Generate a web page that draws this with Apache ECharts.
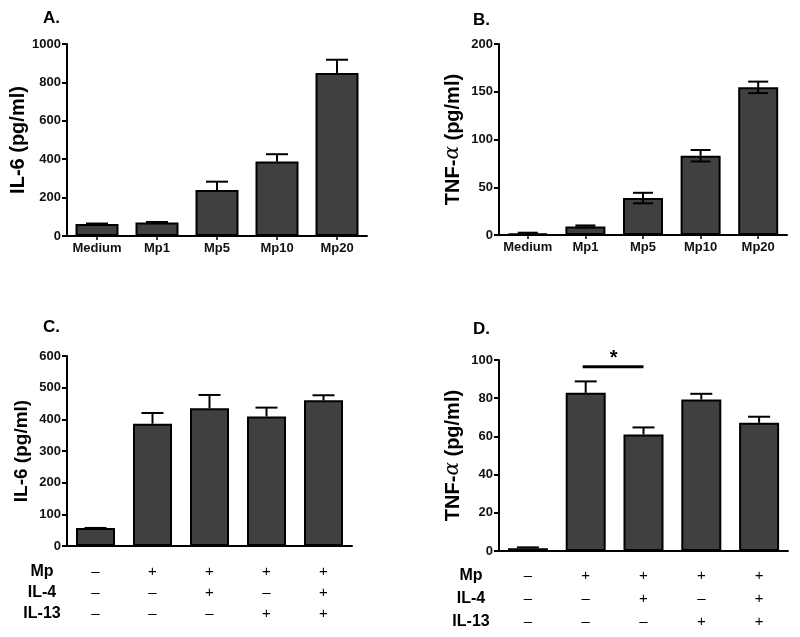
<!DOCTYPE html>
<html>
<head>
<meta charset="utf-8">
<script src="https://cdn.jsdelivr.net/npm/echarts@6/dist/echarts.min.js"></script>
<style>
html,body{margin:0;padding:0;background:#fff;}
#chart{width:800px;height:637px;}
</style>
</head>
<body>
<div id="chart"></div>
<script>
// ---- Data ----
const doseCats = ['Medium', 'Mp1', 'Mp5', 'Mp10', 'Mp20'];
const il6Dose = [62, 70, 240, 388, 849];
const il6DoseSem = [3, 3, 43, 38, 69];
const tnfDose = [1.4, 9, 38.7, 83, 154.6];
const tnfDoseSem = [1, 1, 5.5, 6, 6];

// treatment table (1 = +, 0 = -)
const rowNames = ['Mp', 'IL-4', 'IL-13'];
const mpRow = [0, 1, 1, 1, 1];
const il4Row = [0, 0, 1, 0, 1];
const il13Row = [0, 0, 0, 1, 1];

const il6Treat = [57, 386, 435, 409, 460];
const il6TreatSem = [0, 34, 42, 28, 16];
const tnfTreat = [1.4, 82.8, 61, 79.3, 67.1];
const tnfTreatSem = [0.5, 6, 3.7, 3, 3.2];

// significance bar in panel D: from category, to category, value
const sigFrom = 1, sigTo = 2, sigValue = 96.5, sigLabel = '*';

// ---- Helpers ----
const FONT = 'Liberation Sans, Arial, Helvetica, sans-serif';
const sym = v => (v ? '+' : '–');
const treatCats = mpRow.map((_, i) => sym(mpRow[i]) + '\n' + sym(il4Row[i]) + '\n' + sym(il13Row[i]));

function errRender(capW, showLower) {
  return function (params, api) {
    const x = api.value(0), m = api.value(1), s = api.value(2);
    const top = api.coord([x, m + s]);
    const mid = api.coord([x, m]);
    const bot = api.coord([x, m - s]);
    const st = { stroke: '#000', lineWidth: 2 };
    const ch = [
      { type: 'line', shape: { x1: top[0], y1: top[1], x2: mid[0], y2: mid[1] }, style: st },
      { type: 'line', shape: { x1: top[0] - capW / 2, y1: top[1], x2: top[0] + capW / 2, y2: top[1] }, style: st }
    ];
    if (showLower) {
      ch.push({ type: 'line', shape: { x1: mid[0], y1: mid[1], x2: bot[0], y2: bot[1] }, style: st });
      ch.push({ type: 'line', shape: { x1: bot[0] - capW / 2, y1: bot[1], x2: bot[0] + capW / 2, y2: bot[1] }, style: st });
    }
    return { type: 'group', children: ch };
  };
}

const grids = [
  { left: 67, top: 44, width: 300, height: 192 },
  { left: 499, top: 44, width: 288, height: 191 },
  { left: 67, top: 356, width: 285, height: 190 },
  { left: 499, top: 360, width: 289, height: 191 }
];

const axisLineStyle = { color: '#000', width: 2 };

function xAx(gi, cats, isTable, lh, margin) {
  return {
    type: 'category', gridIndex: gi, data: cats,
    axisLine: { lineStyle: axisLineStyle },
    axisTick: isTable ? { show: false } : { show: true, alignWithLabel: true, length: 4, lineStyle: { color: '#000', width: 1.5 } },
    axisLabel: isTable ? {
      color: '#000', fontFamily: FONT, fontSize: 15, fontWeight: 'normal', lineHeight: lh, margin: margin, interval: 0
    } : {
      color: '#111', fontFamily: FONT, fontSize: 13, fontWeight: 'bold', margin: 6, interval: 0
    },
    splitLine: { show: false }
  };
}

function yAx(gi, max, interval, name, fs, nameFs) {
  return {
    type: 'value', gridIndex: gi, min: 0, max: max, interval: interval,
    name: name, nameLocation: 'middle', nameGap: 36,
    nameTextStyle: {
      color: '#000', fontFamily: FONT, fontWeight: 'bold', fontSize: nameFs,
      rich: {
        b: { fontFamily: FONT, fontWeight: 'bold', fontSize: nameFs, color: '#000' },
        a: { fontFamily: 'DejaVu Serif, serif', fontStyle: 'italic', fontWeight: 'normal', fontSize: nameFs, color: '#000' }
      }
    },
    axisLine: { show: true, lineStyle: axisLineStyle },
    axisTick: { show: true, length: 5, lineStyle: { color: '#000', width: 2 } },
    axisLabel: { color: '#111', fontFamily: FONT, fontSize: fs, fontWeight: 'bold', margin: 6, formatter: v => String(v) },
    splitLine: { show: false }
  };
}

function barSeries(idx, data, w) {
  return {
    type: 'bar', xAxisIndex: idx, yAxisIndex: idx, data: data, barWidth: w,
    itemStyle: { color: '#404040', borderColor: '#000', borderWidth: 2 },
    silent: true, z: 2
  };
}
function errSeries(idx, means, sems, capW, lower) {
  return {
    type: 'custom', xAxisIndex: idx, yAxisIndex: idx,
    data: means.map((m, i) => [i, m, sems[i]]),
    renderItem: errRender(capW, lower), z: 3, silent: true, clip: false
  };
}

const sigSeries = {
  type: 'custom', xAxisIndex: 3, yAxisIndex: 3, z: 4, silent: true, clip: false,
  data: [[sigFrom, sigTo, sigValue]],
  renderItem: function (params, api) {
    const p1 = api.coord([api.value(0), api.value(2)]);
    const p2 = api.coord([api.value(1), api.value(2)]);
    return {
      type: 'group', children: [
        { type: 'line', shape: { x1: p1[0] - 3, y1: p1[1], x2: p2[0], y2: p2[1] }, style: { stroke: '#000', lineWidth: 3 } },
        { type: 'text', x: (p1[0] + p2[0]) / 2 - 1, y: p1[1] - 8, style: { text: sigLabel, font: 'bold 20px ' + FONT, fill: '#000', textAlign: 'center', textVerticalAlign: 'middle' } }
      ]
    };
  }
};

function txt(x, y, text, fs, align) {
  return { type: 'text', x: x, y: y, style: { text: text, font: 'bold ' + fs + 'px ' + FONT, fill: '#000', textAlign: align || 'left', textVerticalAlign: 'middle' } };
}

const graphics = [
  txt(43, 18, 'A.', 17), txt(473, 20, 'B.', 17), txt(43, 327, 'C.', 17), txt(473, 329, 'D.', 17)
];
const cRowY = [572, 593, 614], dRowY = [576, 599, 622];
rowNames.forEach((n, i) => {
  graphics.push(txt(42, cRowY[i], n, 16, 'center'));
  graphics.push(txt(471, dRowY[i], n, 16, 'center'));
});

const tnfName = '{b|TNF-}{a|α}{b| (pg/ml)}';

const option = {
  animation: false,
  backgroundColor: '#fff',
  grid: grids,
  xAxis: [
    xAx(0, doseCats, false),
    xAx(1, doseCats, false),
    xAx(2, treatCats, true, 21, 15.5),
    xAx(3, treatCats, true, 23, 13.5)
  ],
  yAxis: [
    yAx(0, 1000, 200, 'IL-6 (pg/ml)', 13, 20),
    yAx(1, 200, 50, tnfName, 13, 20),
    yAx(2, 600, 100, 'IL-6 (pg/ml)', 13, 19),
    yAx(3, 100, 20, tnfName, 13, 20)
  ],
  graphic: graphics,
  series: [
    barSeries(0, il6Dose, 43), errSeries(0, il6Dose, il6DoseSem, 22, false),
    barSeries(1, tnfDose, 40), errSeries(1, tnfDose, tnfDoseSem, 20, true),
    barSeries(2, il6Treat, 39), errSeries(2, il6Treat, il6TreatSem, 22, false),
    barSeries(3, tnfTreat, 40), errSeries(3, tnfTreat, tnfTreatSem, 22, false),
    sigSeries
  ]
};

const chart = echarts.init(document.getElementById('chart'), null, { renderer: 'canvas' });
chart.setOption(option);
</script>
</body>
</html>
